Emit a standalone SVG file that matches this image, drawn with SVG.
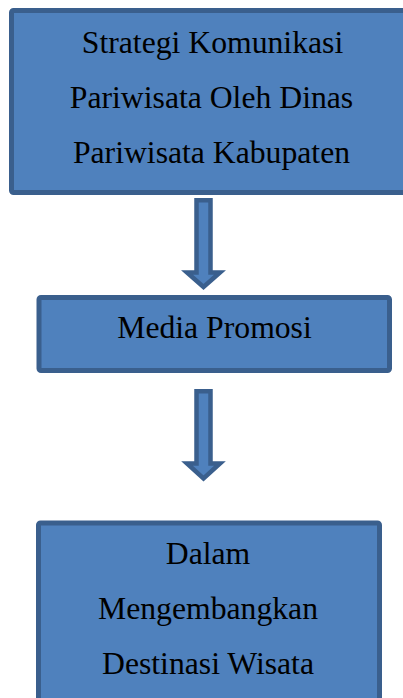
<svg xmlns="http://www.w3.org/2000/svg" width="403" height="698" viewBox="0 0 403 698">
<style>
.box{fill:#4F81BD;stroke:#3A5F8D;stroke-width:5}
.arr{fill:#4F81BD;stroke:#3A5F8D;stroke-width:4.5;stroke-linejoin:miter}
.t{font-family:"Liberation Serif","Times New Roman",serif;font-size:31.7px;fill:#000;text-anchor:middle}
</style>
<rect width="403" height="698" fill="#fff"/>
<g id="node1">
<rect class="box" x="11.5" y="10.5" width="402" height="182" rx="2"/>
<text class="t" x="212.5" y="52.5">Strategi Komunikasi</text>
<text class="t" x="211.5" y="107.5">Pariwisata Oleh Dinas</text>
<text class="t" x="211.5" y="163">Pariwisata Kabupaten</text>
</g>
<g id="node2">
<rect class="box" x="39" y="297.5" width="350.5" height="73" rx="2"/>
<text class="t" x="214.5" y="338">Media Promosi</text>
</g>
<g id="node3">
<rect class="box" x="38.5" y="523" width="341" height="200" rx="2"/>
<text class="t" x="208" y="564">Dalam</text>
<text class="t" x="208" y="619">Mengembangkan</text>
<text class="t" x="208" y="674">Destinasi Wisata</text>
</g>
<g id="connectors">
<polygon class="arr" points="196.5,200.2 210.5,200.2 210.5,272.5 220,272.5 203.5,287 187,272.5 196.5,272.5"/>
<polygon class="arr" points="196.5,391.2 210.5,391.2 210.5,463.5 220,463.5 203.5,478.5 187,463.5 196.5,463.5"/>
</g>
</svg>
